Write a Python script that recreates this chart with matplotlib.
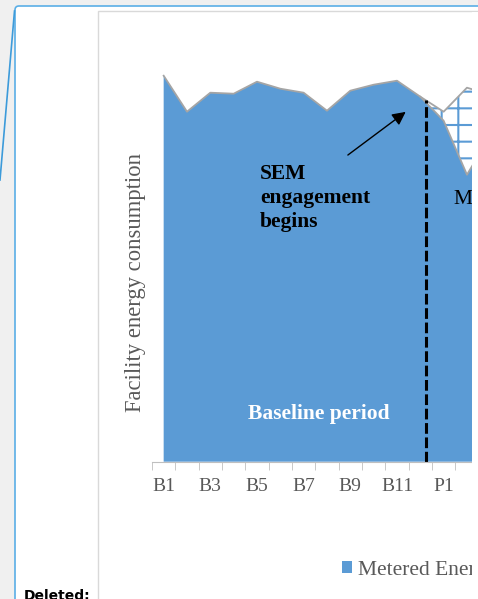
import matplotlib.pyplot as plt
import numpy as np
from matplotlib.patches import Rectangle, FancyBboxPatch

W, H = 478, 599

# category labels (only every other one is labelled on the axis)
categories = ['B1', 'B2', 'B3', 'B4', 'B5', 'B6', 'B7', 'B8', 'B9', 'B10', 'B11', 'B12',
              'P1', 'P2', 'P3']
# metered energy (arbitrary units, no y scale shown)
metered = [386, 350, 369, 368, 380, 373, 369, 351, 371, 377, 381, 365, 341, 287, 326]
# projected baseline during performance period (top of hatched area), starts at B12
projected = [365, 350, 374, 367]

BLUE = '#5B9BD5'
GRAY_TXT = '#595959'
SERIF = 'Liberation Serif'

def px(x):
    return x / W

def py(y):
    return 1 - y / H

plt.rcParams['hatch.linewidth'] = 1.5

fig = plt.figure(figsize=(W / 100, H / 100), dpi=100)
fig.patch.set_facecolor('#F0F0F0')

# page / comment chrome in pixel coords
bg = fig.add_axes([0, 0, 1, 1], zorder=-1)
bg.set_xlim(0, W)
bg.set_ylim(H, 0)
bg.axis('off')
bg.add_patch(FancyBboxPatch((15, 6), 480, 620, boxstyle='round,pad=0,rounding_size=4',
                            fc='white', ec='#5AAEE6', lw=1.2))
bg.plot([0, 14.5], [180, 11], color='#3D9BDA', lw=1.2)
bg.add_patch(Rectangle((98, 11), 420, 620, fc='white', ec='#D9D9D9', lw=1))

# chart
x = np.arange(len(categories))
left, right = 152.0, 472.0
bottom, top = 461.7, 60.0
ax = fig.add_axes([px(left), py(bottom), (right - left) / W, (bottom - top) / H])
ax.set_facecolor('none')
step = 23.33

ax.fill_between(x, 0, metered, facecolor=BLUE, linewidth=0, label='Metered Energy')
xp = x[11:11 + len(projected)]
ax.fill_between(xp, metered[11:11 + len(projected)], projected, facecolor='white',
                edgecolor=BLUE, hatch='+', linewidth=0)
ax.plot(x, metered, color='#A5A5A5', lw=1.3)
ax.plot(xp, projected, color='#A5A5A5', lw=1.3)

# SEM engagement marker
xd = 11.23
ax.plot([xd, xd], [0, 362], color='black', lw=2.2, dashes=(3.5, 1.2))
ax.annotate('', xy=(10.47, 351.5), xytext=(7.8, 305),
            arrowprops=dict(arrowstyle='-|>', color='black', lw=1, mutation_scale=20))

for s in ['top', 'right', 'left']:
    ax.spines[s].set_visible(False)
ax.spines['bottom'].set_color('#BFBFBF')
ax.set_yticks([])
ax.set_xticks(x[::2])
ax.set_xticklabels(categories[::2])
ax.set_xticks(np.arange(-0.5, len(categories), 1), minor=True)
ax.tick_params(axis='x', which='major', length=0, pad=12, labelsize=14, labelcolor=GRAY_TXT)
ax.tick_params(axis='x', which='minor', length=6, color='#BFBFBF')
for t in ax.get_xticklabels():
    t.set_fontfamily(SERIF)
ax.set_xlim(-0.5, -0.5 + (right - left) / step)
ax.set_ylim(0, bottom - top)

fig.text(px(136), py(282), 'Facility energy consumption', rotation=90, ha='center',
         va='center', fontsize=16.3, color=GRAY_TXT, family=SERIF)
fig.text(px(260), py(227.5), 'SEM\nengagement\nbegins', ha='left', va='baseline',
         fontsize=15.5, fontweight='bold', family=SERIF, linespacing=1.27)
fig.text(px(319), py(419.5), 'Baseline period', ha='center', va='baseline', fontsize=15.5,
         fontweight='bold', color='white', family=SERIF)
ax.text(12.45, 257.5, 'Measurement period', ha='left', va='baseline', fontsize=15.5,
        family=SERIF, clip_on=True)

fig.legend(loc='center left', bbox_to_anchor=(px(341.5), py(570)), frameon=False,
           borderpad=0, borderaxespad=0, handlelength=0.5, handleheight=0.5,
           handletextpad=0.25, prop={'family': SERIF, 'size': 15.5}, labelcolor=GRAY_TXT)

fig.text(px(24), py(600), 'Deleted:', ha='left', va='baseline', fontsize=10,
         fontweight='bold', family='DejaVu Sans')

# chart is cut off at the right edge of the page
mask = fig.add_axes([0, 0, 1, 1], zorder=10)
mask.set_xlim(0, W)
mask.set_ylim(H, 0)
mask.axis('off')
mask.add_patch(Rectangle((472.5, 12), 10, 600, fc='white', ec='none'))

fig.savefig('out.png', dpi=100, facecolor=fig.get_facecolor())
